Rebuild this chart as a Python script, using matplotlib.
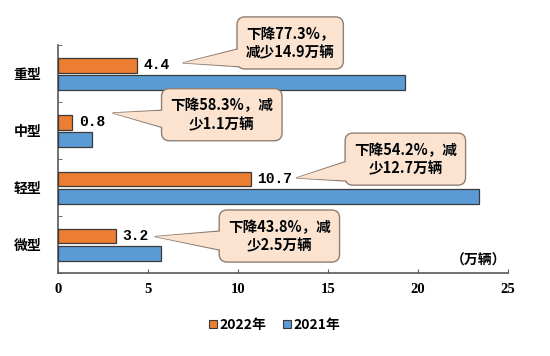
import matplotlib
matplotlib.use("Agg")
import matplotlib.pyplot as plt
import numpy as np
from matplotlib.patches import Patch

plt.rcParams['font.family'] = ['Noto Sans CJK SC', 'DejaVu Sans']

categories = ['重型', '中型', '轻型', '微型']
v2022 = [4.4, 0.8, 10.7, 3.2]
v2021 = [19.3, 1.9, 23.4, 5.7]
labels2022 = ['4.4', '0.8', '10.7', '3.2']
callouts = ['下降77.3%，\n减少14.9万辆', '下降58.3%，减\n少1.1万辆',
            '下降54.2%，减\n少12.7万辆', '下降43.8%，减\n少2.5万辆']
xticks = [0, 5, 10, 15, 20, 25]
unit = '（万辆）'
legend_labels = ['2022年', '2021年']

c_or = '#ED7D31'
c_bl = '#5B9BD5'
c_edge = '#3a3a3a'
fill = '#FBE3D0'
bedge = '#8E7F74'
W = 'heavy'

fig = plt.figure(figsize=(5.5, 3.56), dpi=100)
ax = fig.add_axes([0.1055, 0.233, 0.818, 0.640])

n = len(categories)
ypos = np.arange(n)[::-1]  # top category first
h = 0.26
ax.barh(ypos + 0.15, v2022, height=h, color=c_or, edgecolor=c_edge, linewidth=0.9, zorder=3)
ax.barh(ypos - 0.15, v2021, height=h, color=c_bl, edgecolor=c_edge, linewidth=0.9, zorder=3)

for y, v, t in zip(ypos, v2022, labels2022):
    ax.text(v + 0.35, y + 0.15, t, va='center', ha='left', fontsize=10.5,
            fontweight='bold', family=['Liberation Mono'], zorder=4)

ax.set_xlim(0, 25)
ax.set_ylim(-0.5, n - 0.5)
ax.set_xticks(xticks)
ax.set_xticklabels([str(x) for x in xticks], family=['Liberation Serif'],
                   fontweight='bold', fontsize=10.5)
ax.set_yticks(ypos)
ax.set_yticklabels(categories, fontweight=W, fontsize=10)
ax.set_yticks(np.arange(-0.5, n, 1.0), minor=True)
ax.tick_params(axis='y', which='major', length=0, pad=12)
ax.tick_params(axis='y', which='minor', direction='in', length=3, color='#595959')
ax.tick_params(axis='x', direction='in', length=3, pad=7, color='#595959')

for s in ['top', 'right']:
    ax.spines[s].set_visible(False)
for s in ['left', 'bottom']:
    ax.spines[s].set_color('#595959')
    ax.spines[s].set_linewidth(1.2)

ax.text(0.935, 0.055, unit, transform=ax.transAxes, ha='center', va='center',
        fontsize=10, fontweight=W)

# callouts: (text center, wedge origin, tip) in data coords
geo = [((12.9, 3.54), (10.8, 3.30), (6.95, 3.19)),
       ((9.1, 2.28), (6.6, 2.18), (3.05, 2.31)),
       ((19.3, 1.5), (16.4, 1.30), (13.25, 1.17)),
       ((12.3, 0.15), (9.6, 0.06), (5.4, 0.14))]

fs = 10.5
for txt, (c, o, tip) in zip(callouts, geo):
    ax.annotate('', xy=tip, xytext=o,
                arrowprops=dict(arrowstyle='wedge,tail_width=1.6', fc=fill, ec=bedge,
                                lw=1.0, shrinkA=0, shrinkB=0, patchA=None),
                zorder=5)
    ax.text(c[0], c[1], txt, ha='center', va='center', fontsize=fs, fontweight=W,
            linespacing=1.2, zorder=6, color='white',
            bbox=dict(boxstyle='round,pad=0.6,rounding_size=0.55', fc=fill, ec=bedge, lw=1.0))
    ax.annotate('', xy=tip, xytext=o,
                arrowprops=dict(arrowstyle='wedge,tail_width=1.5', fc=fill, ec='none',
                                lw=0, shrinkA=0, shrinkB=0, patchA=None),
                zorder=7)
    ax.text(c[0], c[1], txt, ha='center', va='center', fontsize=fs, fontweight=W,
            linespacing=1.2, zorder=8, color='black')

handles = [Patch(facecolor=c_or, edgecolor=c_edge, lw=0.8),
           Patch(facecolor=c_bl, edgecolor=c_edge, lw=0.8)]
leg = fig.legend(handles, legend_labels, loc='center', bbox_to_anchor=(0.5, 0.087), ncol=2,
                 frameon=False, handlelength=0.55, handleheight=0.55, handletextpad=0.2,
                 columnspacing=1.2, prop={'weight': W, 'size': 10})

fig.savefig('out.png', dpi=100)
